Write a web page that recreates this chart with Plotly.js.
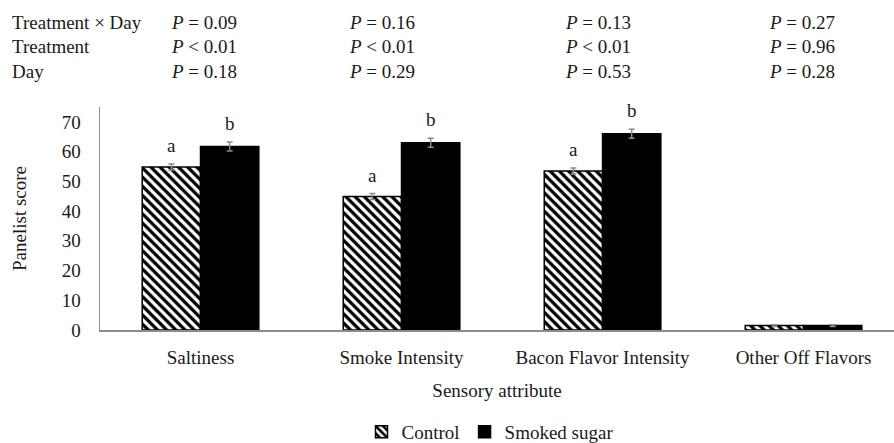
<!DOCTYPE html>
<html>
<head>
<meta charset="utf-8">
<script src="https://cdn.plot.ly/plotly-3.0.1.min.js"></script>
<style>html,body{margin:0;padding:0;background:#fff;}#chart{width:894px;height:443px;}</style>
</head>
<body>
<div id="chart"></div>
<script>
// ---- data ----
const categories = ["Saltiness", "Smoke Intensity", "Bacon Flavor Intensity", "Other Off Flavors"];
const controlValues = [54.8, 44.9, 53.5, 1.5];
const controlErrors = [1.0, 1.0, 1.0, 0.3];
const smokedValues = [61.7, 63.0, 66.0, 1.5];
const smokedErrors = [1.5, 1.5, 1.5, 0.3];
const controlLetters = ["a", "a", "a", ""];
const smokedLetters = ["b", "b", "b", ""];
const rowLabels = ["Treatment \u00d7 Day", "Treatment", "Day"];
const pInteraction = ["= 0.09", "= 0.16", "= 0.13", "= 0.27"];
const pTreatment = ["< 0.01", "< 0.01", "< 0.01", "= 0.96"];
const pDay = ["= 0.18", "= 0.29", "= 0.53", "= 0.28"];
const yTicks = [0, 10, 20, 30, 40, 50, 60, 70];

const FONT = "Liberation Serif, Times New Roman, serif";
const TXT = "#1a1a1a";

const traces = [
  {
    type: "bar", name: "Control", x: categories, y: controlValues,
    marker: {color: "#ffffff", line: {color: "#000", width: 1.5},
      pattern: {shape: "\\", fgcolor: "#000", bgcolor: "#fff", size: 6.5, solidity: 0.5}},
    error_y: {type: "data", array: controlErrors, visible: true, color: "#8a8a8a", thickness: 1.5, width: 3}
  },
  {
    type: "bar", name: "Smoked sugar", x: categories, y: smokedValues,
    marker: {color: "#000", line: {color: "#000", width: 1.5}},
    error_y: {type: "data", array: smokedErrors, visible: true, color: "#8a8a8a", thickness: 1.5, width: 3}
  }
];

const annotations = [];
const off = 0.145;
categories.forEach((c, i) => {
  if (controlLetters[i]) annotations.push({x: i - off, y: controlValues[i] + controlErrors[i], xref: "x", yref: "y",
    text: controlLetters[i], showarrow: false, yanchor: "bottom", yshift: 6, font: {family: FONT, size: 19, color: TXT}});
  if (smokedLetters[i]) annotations.push({x: i + off, y: smokedValues[i] + smokedErrors[i], xref: "x", yref: "y",
    text: smokedLetters[i], showarrow: false, yanchor: "bottom", yshift: 6, font: {family: FONT, size: 19, color: TXT}});
});

// P-value table above plot
const plotL = 100, plotW = 794, plotB = 330, plotH = 223;
const px2x = p => (p - plotL) / plotW;
const px2y = p => (plotB - p) / plotH;
const rowY = [22, 47, 71];
const colX = [169, 347, 563, 767];
const pRows = [pInteraction, pTreatment, pDay];
rowLabels.forEach((lab, r) => {
  annotations.push({xref: "paper", yref: "paper", x: px2x(10), y: px2y(rowY[r]), xanchor: "left", yanchor: "middle",
    text: lab, showarrow: false, font: {family: FONT, size: 19, color: TXT}});
  pRows[r].forEach((v, c) => {
    annotations.push({xref: "paper", yref: "paper", x: px2x(colX[c]), y: px2y(rowY[r]), xanchor: "left", yanchor: "middle",
      text: "<i>P</i> " + v, showarrow: false, font: {family: FONT, size: 19, color: TXT}});
  });
});

const layout = {
  width: 894, height: 443,
  margin: {l: 100, r: 0, t: 107, b: 113, autoexpand: false},
  paper_bgcolor: "#fff", plot_bgcolor: "#fff",
  font: {family: FONT, size: 19, color: TXT},
  barmode: "group", bargap: 0.42, bargroupgap: 0,
  showlegend: true,
  legend: {orientation: "h", x: px2x(490), xanchor: "center", y: px2y(432), yanchor: "middle",
    font: {family: FONT, size: 19, color: TXT}, itemwidth: 30, tracegroupgap: 0},
  xaxis: {
    type: "category", range: [-0.5, 3.45], showline: true, linecolor: "#8c8c8c", linewidth: 1.5,
    ticks: "", showgrid: false, zeroline: false, ticklabelstandoff: 10,
    tickfont: {family: FONT, size: 19, color: TXT},
    title: {text: "Sensory attribute", font: {family: FONT, size: 19, color: TXT}, standoff: 16}
  },
  yaxis: {
    range: [0, 75], tickvals: yTicks, showline: true, linecolor: "#8c8c8c", linewidth: 1.5,
    ticks: "", showgrid: false, zeroline: false, ticklabelstandoff: 14,
    tickfont: {family: FONT, size: 19, color: TXT},
    title: {text: "Panelist score", font: {family: FONT, size: 19, color: TXT}, standoff: 30}
  },
  annotations: annotations
};

Plotly.newPlot("chart", traces, layout, {displayModeBar: false, staticPlot: true});
</script>
</body>
</html>
